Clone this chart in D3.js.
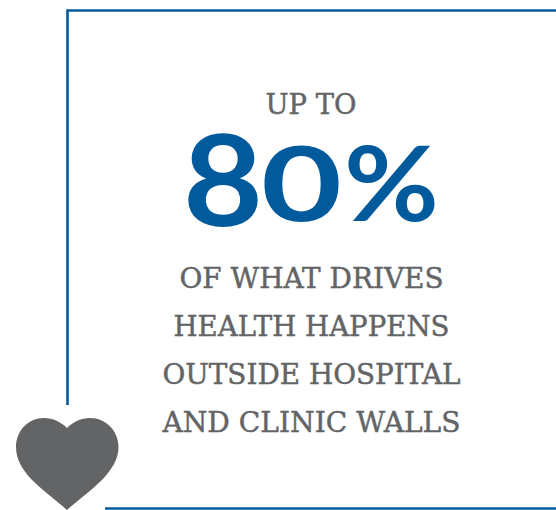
<!DOCTYPE html>
<html>
<head>
<meta charset="utf-8">
<script src="https://cdn.jsdelivr.net/npm/d3@7"></script>
<style>
html, body { margin: 0; padding: 0; background: #fff; overflow: hidden; }
svg { display: block; }
</style>
</head>
<body>
<svg id="card" width="556" height="510"></svg>
<script>
// text of the card
var introText = "UP TO";
var bigGlyphs = ["8", "0", "%"];
var bodyLines = ["OF WHAT DRIVES", "HEALTH HAPPENS", "OUTSIDE HOSPITAL", "AND CLINIC WALLS"];

var blue = "#005a9c", grey = "#636466";
var svg = d3.select("#card");

// frame, open at the bottom left where the heart sits
var frame = d3.path();
frame.moveTo(67.5, 405);
frame.lineTo(67.5, 10.5);
frame.lineTo(556, 10.5);
frame.moveTo(105, 508.5);
frame.lineTo(556, 508.5);
svg.append("path")
	.attr("d", frame.toString())
	.attr("fill", "none")
	.attr("stroke", blue)
	.attr("stroke-width", 2.6);

// heart
var heart = d3.path();
heart.moveTo(67, 428);
heart.bezierCurveTo(61, 422, 53, 418, 44, 418);
heart.bezierCurveTo(28, 418, 16, 431, 16, 447);
heart.bezierCurveTo(16, 460, 23, 470, 31, 479);
heart.bezierCurveTo(43, 491, 56, 500, 67, 510);
heart.bezierCurveTo(78, 500, 91, 491, 103, 479);
heart.bezierCurveTo(111, 470, 118.5, 460, 118.5, 447);
heart.bezierCurveTo(118.5, 431, 106, 418, 90, 418);
heart.bezierCurveTo(81, 418, 73, 422, 67, 428);
heart.closePath();
svg.append("path").attr("d", heart.toString()).attr("fill", grey);

// measured widths in the reference keep the substitute fonts in line
var bodyY = d3.scaleLinear().domain([0, 3]).range([288, 432]);
var bodyWidth = [264, 276, 298, 298];

function slab(sel) {
	return sel.attr("text-anchor", "middle")
		.attr("font-family", "'DejaVu Serif', serif")
		.attr("font-size", 27.5)
		.attr("fill", grey)
		.attr("stroke", grey)
		.attr("stroke-width", 0.45)
		.attr("lengthAdjust", "spacingAndGlyphs");
}

svg.append("text").call(slab)
	.attr("x", 311).attr("y", 114)
	.attr("textLength", 91)
	.text(introText);

svg.selectAll("text.body")
	.data(bodyLines)
	.enter().append("text")
	.attr("class", "body")
	.call(slab)
	.attr("x", 311.5)
	.attr("y", function(d, i) { return bodyY(i); })
	.attr("textLength", function(d, i) { return bodyWidth[i]; })
	.text(function(d) { return d; });

// old style figures: the 8 stands taller than the 0 and the percent sign
var glyphX = [183, 261, 344];
var glyphY = [226, 221, 221];
var glyphSize = [126, 104, 104];
var glyphLength = [80, 81, 95];
var big = svg.append("text")
	.attr("font-family", "Lato, sans-serif")
	.attr("font-weight", 700)
	.attr("fill", blue);
big.selectAll("tspan")
	.data(bigGlyphs)
	.enter().append("tspan")
	.attr("x", function(d, i) { return glyphX[i]; })
	.attr("y", function(d, i) { return glyphY[i]; })
	.attr("font-size", function(d, i) { return glyphSize[i]; })
	.attr("textLength", function(d, i) { return glyphLength[i]; })
	.attr("lengthAdjust", "spacingAndGlyphs")
	.text(function(d) { return d; });
</script>
</body>
</html>
